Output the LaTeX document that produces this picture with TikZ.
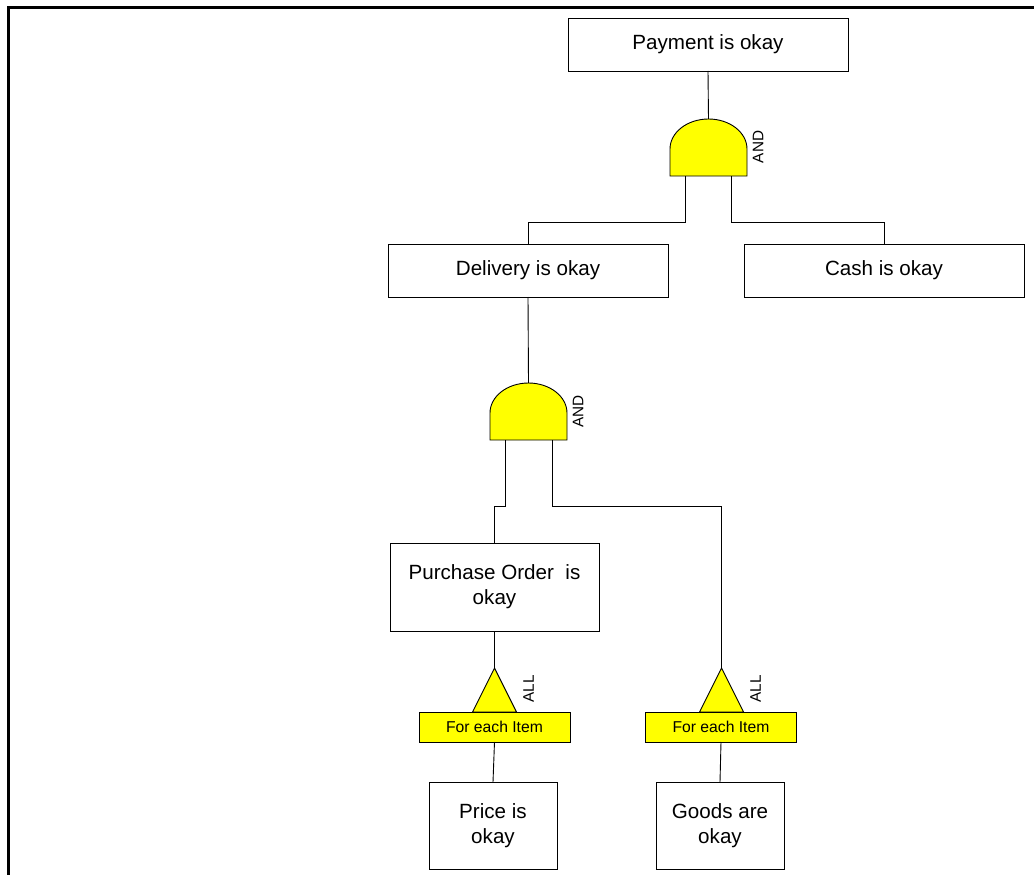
\documentclass[tikz,border=0pt]{standalone}
\usepackage{fontspec}
\setmainfont{Liberation Sans}
\definecolor{gateyellow}{RGB}{255,255,0}
\begin{document}
\begin{tikzpicture}[x=1pt,y=-1pt,
  every node/.style={inner sep=0pt,outer sep=0pt},
  event/.style={draw=black,line width=0.9pt,fill=white,align=center,
    font=\fontsize{20.6}{25}\selectfont},
  gatebox/.style={minimum width=77pt,minimum height=57pt},
  gatefill/.style={draw=black,line width=0.9pt,fill=gateyellow},
  allbox/.style={minimum width=44pt,minimum height=44pt},
  loopbox/.style={draw=black,line width=0.9pt,fill=gateyellow,
    minimum width=151pt,minimum height=30pt,font=\fontsize{15.7}{18}\selectfont},
  gatelabel/.style={rotate=90,font=\fontsize{15.3}{18}\selectfont},
  wire/.style={draw=black,line width=0.9pt},
  frame/.style={draw=black,line width=2.5pt}]
\useasboundingbox (0,0) rectangle (1034,875);

% outer frame (left and top edges)
\coordinate (fa) at (8.5,875);
\coordinate (fb) at (8.5,7.5);
\coordinate (fc) at (1034,7.5);
\draw[frame] (fa) -- (fb) -- (fc);

% events
\node[event,minimum width=280pt,minimum height=53pt] (pay) at (708,44.5) {Payment is okay};
\node[event,minimum width=280pt,minimum height=53pt] (del) at (528,270.5) {Delivery is okay};
\node[event,minimum width=280pt,minimum height=53pt] (cash) at (884,270.5) {Cash is okay};
\node[event,minimum width=209pt,minimum height=88pt] (po) at (494.5,587) {Purchase Order\ \ is\\okay};
\node[event,minimum width=128pt,minimum height=87pt] (price) at (493,825.5) {Price is\\okay};
\node[event,minimum width=128pt,minimum height=87pt] (goods) at (720,825.5) {Goods are\\okay};

% AND gates
\node[gatebox] (g1) at (708.5,147.5) {};
\node[gatebox] (g2) at (528.5,411.5) {};
\foreach \g in {g1,g2}{
  \draw[gatefill] (\g.south west) -- ([yshift=27pt]\g.south west)
    arc[start angle=180,end angle=0,x radius=38.5pt,y radius=30pt]
    -- (\g.south east) -- cycle;
}
\node[gatelabel] (and1) at (758,147) {AND};
\node[gatelabel] (and2) at (578,411.5) {AND};

% ALL gates with their loop boxes
\node[allbox] (t1) at (494.5,690) {};
\node[allbox] (t2) at (721.5,690) {};
\foreach \t in {t1,t2}{
  \draw[gatefill] (\t.south west) -- (\t.north) -- (\t.south east) -- cycle;
}
\node[gatelabel] (all1) at (528.5,689) {ALL};
\node[gatelabel] (all2) at (755.5,689) {ALL};
\node[loopbox] (fe1) at (494.5,727) {For each Item};
\node[loopbox] (fe2) at (721,727) {For each Item};

% connectors
\draw[wire] (pay.south) -- (g1.north);
\draw[wire] ([xshift=15pt]g1.south west) -- ++(0,46) -| (del.north);
\draw[wire] ([xshift=-16pt]g1.south east) -- ++(0,46) -| (cash.north);
\draw[wire] (del.south) -- (g2.north);
\draw[wire] ([xshift=15pt]g2.south west) -- ++(0,66) -| (po.north);
\draw[wire] ([xshift=-15pt]g2.south east) -- ++(0,66) -| (t2.north);
\draw[wire] (po.south) -- (t1.north);
\draw[wire] (fe1.south) -- (price.north);
\draw[wire] (fe2.south) -- (goods.north);
\end{tikzpicture}
\end{document}
